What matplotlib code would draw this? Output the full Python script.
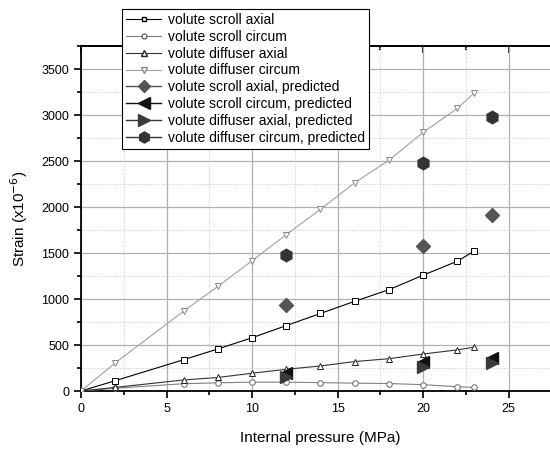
import numpy as np
import matplotlib
matplotlib.use('Agg')
import matplotlib.pyplot as plt
from matplotlib.lines import Line2D
from matplotlib.ticker import MultipleLocator, NullFormatter

plt.rcParams['font.family'] = ['Liberation Sans', 'DejaVu Sans']

# measured data
p = [0, 2, 6, 8, 10, 12, 14, 16, 18, 20, 22, 23]
scroll_axial = [0, 112, 340, 457, 579, 711, 843, 975, 1101, 1259, 1411, 1522]
scroll_circum = [0, 30, 79, 89, 96, 96, 91, 85, 81, 69, 46, 39]
diffuser_axial = [0, 39, 120, 147, 193, 236, 272, 320, 351, 402, 447, 477]
diffuser_circum = [0, 305, 868, 1137, 1416, 1700, 1975, 2264, 2508, 2812, 3071, 3243]

# predicted
p_pred = [12, 20, 24]
scroll_axial_pred = [935, 1573, 1910]
scroll_circum_pred = [199, 312, 356]
diffuser_axial_pred = [155, 258, 302]
diffuser_circum_pred = [1481, 2475, 2975]

fig = plt.figure(figsize=(5.5, 4.5), dpi=100)
ax = fig.add_axes([81/550, 59/450, 479/550, 345/450])

ax.plot(p, scroll_axial, '-s', color='black', lw=0.8, ms=4, mfc='white', mec='black', mew=0.7, zorder=3)
ax.plot(p, scroll_circum, '-o', color='#808080', lw=0.8, ms=4, mfc='white', mec='#666666', mew=0.7, zorder=3)
ax.plot(p, diffuser_axial, '-^', color='#333333', lw=0.8, ms=4.5, mfc='white', mec='#222222', mew=0.7, zorder=3)
ax.plot(p, diffuser_circum, '-v', color='#a0a0a0', lw=0.8, ms=4.5, mfc='white', mec='#888888', mew=0.7, zorder=3)

ax.plot(p_pred, scroll_axial_pred, 'D', color='#555555', ms=7.5, ls='none', zorder=4)
ax.plot(p_pred, scroll_circum_pred, '<', color='#111111', ms=8.5, ls='none', zorder=4)
ax.plot(p_pred, diffuser_axial_pred, '>', color='#3a3a3a', ms=8.5, ls='none', zorder=4)
ax.plot(p_pred, diffuser_circum_pred, 'h', color='#333333', ms=9, ls='none', zorder=4)

ax.set_xlim(0, 28)
ax.set_ylim(0, 3750)
ax.xaxis.set_major_locator(MultipleLocator(5))
ax.xaxis.set_minor_locator(MultipleLocator(2.5))
ax.yaxis.set_major_locator(MultipleLocator(500))
ax.yaxis.set_minor_locator(MultipleLocator(250))
ax.grid(which='major', color='#b0b0b0', lw=0.9, ls='-')
ax.grid(which='minor', color='#c8c8c8', lw=0.7, ls=':')
ax.set_axisbelow(True)

ax.tick_params(which='both', direction='out', labelsize=9, width=1.2)
ax.tick_params(which='major', length=5)
ax.tick_params(which='minor', length=3)
for s in ax.spines.values():
    s.set_linewidth(1.3)

# top / right ticks point inward
top = ax.secondary_xaxis('top')
top.xaxis.set_major_locator(MultipleLocator(5))
top.xaxis.set_minor_locator(MultipleLocator(2.5))
top.xaxis.set_major_formatter(NullFormatter())
top.tick_params(which='both', direction='in', width=1.2)
top.tick_params(which='major', length=5)
top.tick_params(which='minor', length=3)
top.spines['top'].set_linewidth(1.3)
right = ax.secondary_yaxis('right')
right.yaxis.set_major_locator(MultipleLocator(500))
right.yaxis.set_minor_locator(MultipleLocator(250))
right.yaxis.set_major_formatter(NullFormatter())
right.tick_params(which='both', direction='in', width=1.2)

ax.set_xlabel('Internal pressure (MPa)', fontsize=11, labelpad=12)
ax.set_ylabel('Strain (x10$^{-6}$)', fontsize=11, labelpad=8)

handles = [
    Line2D([], [], color='black', lw=0.8, marker='s', ms=3.5, mfc='white', mec='black'),
    Line2D([], [], color='#808080', lw=0.8, marker='o', ms=3.5, mfc='white', mec='#666666'),
    Line2D([], [], color='#333333', lw=0.8, marker='^', ms=4, mfc='white', mec='#222222'),
    Line2D([], [], color='#a0a0a0', lw=0.8, marker='v', ms=4, mfc='white', mec='#888888'),
    Line2D([], [], color='#555555', lw=1.0, marker='D', ms=6.5),
    Line2D([], [], color='#111111', lw=1.0, marker='<', ms=8),
    Line2D([], [], color='#3a3a3a', lw=1.0, marker='>', ms=8),
    Line2D([], [], color='#333333', lw=1.0, marker='h', ms=8),
]
labels = ['volute scroll axial', 'volute scroll circum', 'volute diffuser axial',
          'volute diffuser circum', 'volute scroll axial, predicted',
          'volute scroll circum, predicted', 'volute diffuser axial, predicted',
          'volute diffuser circum, predicted']
leg = fig.legend(handles, labels, loc='upper left', bbox_to_anchor=(122/550, 1 - 9/450),
                 fontsize=10, frameon=True, fancybox=False, framealpha=1, edgecolor='black',
                 handlelength=2.5, labelspacing=0.2, borderpad=0.3, handletextpad=0.5,
                 borderaxespad=0)
leg.get_frame().set_linewidth(0.8)

fig.savefig('out.png', dpi=100)
